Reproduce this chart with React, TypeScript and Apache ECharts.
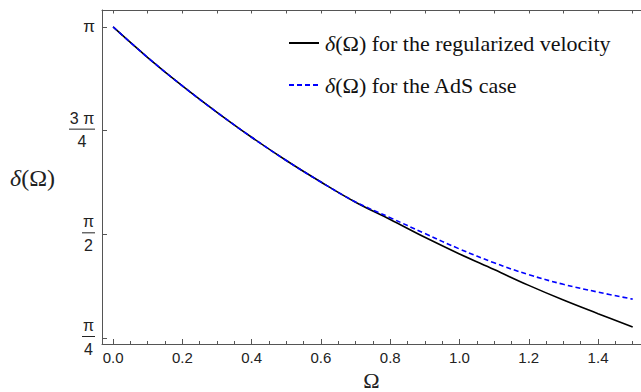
import React, { useEffect, useRef } from "react";
import * as echarts from "echarts";

const PI = Math.PI;

const OMEGA = [0, 0.1, 0.2, 0.3, 0.4, 0.5, 0.6, 0.7, 0.8, 0.9, 1.0, 1.1, 1.2, 1.3, 1.4, 1.5];
const DELTA_REG = [3.1416, 2.91, 2.695, 2.495, 2.306, 2.13, 1.967, 1.814, 1.683, 1.548, 1.422, 1.304, 1.184, 1.073, 0.97, 0.869];
const DELTA_ADS = [3.1416, 2.91, 2.695, 2.495, 2.306, 2.13, 1.967, 1.816, 1.697, 1.577, 1.46, 1.355, 1.265, 1.192, 1.133, 1.08];

const SERIES_NAMES = ["regularized velocity", "the AdS case"];

const X_MAJOR = [0, 0.2, 0.4, 0.6, 0.8, 1.0, 1.2, 1.4];
const X_MINOR = [0, 0.05, 0.1, 0.15, 0.2, 0.25, 0.3, 0.35, 0.4, 0.45, 0.5, 0.55, 0.6, 0.65, 0.7, 0.75, 0.8, 0.85, 0.9, 0.95, 1.0, 1.05, 1.1, 1.15, 1.2, 1.25, 1.3, 1.35, 1.4, 1.45, 1.5];
const X_TOP = [0, 0.1, 0.2, 0.3, 0.4, 0.5, 0.6, 0.7, 0.8, 0.9, 1.0, 1.1, 1.2, 1.3, 1.4, 1.5];
const Y_TICKS = [PI / 4, PI / 2, (3 * PI) / 4, PI];
const Y_LABELS = ["{n|π}\n{b| }\n{d|4}", "{n|π}\n{b| }\n{d|2}", "{N|3 π}\n{B| }\n{D|4}", "{s|π}"];

const X_MIN = -0.032;
const X_MAX = 1.524;
const Y_MIN = 0.74;
const Y_MAX = 3.27;

const AXIS_COLOR = "#555";
const TEXT_COLOR = "#222";
const SANS = "'Liberation Sans', Arial, sans-serif";
const SERIF = "'Liberation Serif', 'Times New Roman', serif";

export default function App() {
  const ref = useRef<HTMLDivElement>(null);

  useEffect(() => {
    if (!ref.current) return;
    const chart = echarts.init(ref.current, null, { renderer: "svg" });
    const pairs = (ys: number[]) => OMEGA.map((x, i) => [x, ys[i]]);
    const tickFont = { fontFamily: SANS, fontSize: 15, color: TEXT_COLOR };
    const frac = (w: number) => ({
      n: { fontFamily: SANS, fontSize: 16, color: TEXT_COLOR, lineHeight: 17, width: w, align: "center" },
      b: { fontSize: 1, lineHeight: 5, height: 1, width: w, backgroundColor: TEXT_COLOR },
      d: { fontFamily: SANS, fontSize: 16, color: TEXT_COLOR, lineHeight: 20, width: w, align: "center" },
    });
    const f1 = frac(13);
    const f3 = frac(26);
    const serif = { fontFamily: SERIF, fontSize: 22, color: "#111", lineHeight: 24 };

    chart.setOption({
      animation: false,
      backgroundColor: "#fff",
      grid: { left: 102, right: 0, top: 10, bottom: 48, containLabel: false, outerBoundsMode: "none" },
      legend: {
        orient: "vertical",
        left: 283,
        top: 26,
        itemWidth: 30,
        itemHeight: 14,
        itemGap: 18,
        data: SERIES_NAMES,
        itemStyle: { opacity: 0 },
        formatter: (name: string) =>
          "{i|δ}{t|(Ω) for " + (name === SERIES_NAMES[0] ? "the " + name : name) + "}",
        textStyle: {
          ...serif,
          padding: [0, 0, 0, 1],
          rich: {
            i: { ...serif, fontStyle: "italic" },
            t: { ...serif },
          },
        },
      },
      xAxis: [
        {
          type: "value",
          position: "bottom",
          min: X_MIN,
          max: X_MAX,
          name: "Ω",
          nameLocation: "middle",
          nameGap: 35,
          nameTextStyle: { fontFamily: SERIF, fontSize: 22, lineHeight: 18, verticalAlign: "middle", color: TEXT_COLOR },
          axisLine: { show: true, onZero: false, lineStyle: { color: AXIS_COLOR, width: 1 } },
          axisTick: { show: true, inside: true, length: 5, customValues: X_MAJOR, lineStyle: { color: AXIS_COLOR } },
          axisLabel: {
            show: true,
            customValues: X_MAJOR,
            margin: 6,
            formatter: (v: number) => v.toFixed(1),
            ...tickFont,
          },
          splitLine: { show: false },
        },
        {
          type: "value",
          position: "bottom",
          min: X_MIN,
          max: X_MAX,
          axisLine: { show: false, onZero: false },
          axisTick: { show: true, inside: true, length: 3, customValues: X_MINOR, lineStyle: { color: AXIS_COLOR } },
          axisLabel: { show: false },
          splitLine: { show: false },
        },
        {
          type: "value",
          position: "top",
          min: X_MIN,
          max: X_MAX,
          axisLine: { show: true, onZero: false, lineStyle: { color: AXIS_COLOR, width: 1 } },
          axisTick: { show: true, inside: true, length: 3.5, customValues: X_TOP, lineStyle: { color: AXIS_COLOR } },
          axisLabel: { show: false },
          splitLine: { show: false },
        },
      ],
      yAxis: {
        type: "value",
        min: Y_MIN,
        max: Y_MAX,
        axisLine: { show: true, onZero: false, lineStyle: { color: AXIS_COLOR, width: 1 } },
        axisTick: { show: true, inside: true, length: 5, customValues: Y_TICKS, lineStyle: { color: AXIS_COLOR } },
        axisLabel: {
          show: true,
          customValues: Y_TICKS,
          margin: 7,
          formatter: (v: number) => {
            let best = 0;
            Y_TICKS.forEach((t, i) => {
              if (Math.abs(t - v) < Math.abs(Y_TICKS[best] - v)) best = i;
            });
            return Y_LABELS[best];
          },
          ...tickFont,
          rich: {
            s: { fontFamily: SANS, fontSize: 17, color: TEXT_COLOR, lineHeight: 18 },
            n: f1.n,
            b: f1.b,
            d: f1.d,
            N: f3.n,
            B: f3.b,
            D: f3.d,
          },
        },
        splitLine: { show: false },
      },
      graphic: [
        {
          type: "text",
          left: 10,
          top: 166,
          style: {
            text: "{i|δ}(Ω)",
            fill: TEXT_COLOR,
            font: "24px " + SERIF,
            rich: {
              i: { fontFamily: SERIF, fontStyle: "italic", fontSize: 24, fill: TEXT_COLOR },
            },
          },
        },
      ],
      series: [
        {
          name: SERIES_NAMES[0],
          type: "line",
          xAxisIndex: 0,
          data: pairs(DELTA_REG),
          smooth: 0.4,
          showSymbol: false,
          symbol: "none",
          lineStyle: { color: "#000", width: 1.6 },
          itemStyle: { color: "#000" },
        },
        {
          name: SERIES_NAMES[1],
          type: "line",
          xAxisIndex: 0,
          data: pairs(DELTA_ADS),
          smooth: 0.4,
          showSymbol: false,
          symbol: "none",
          lineStyle: { color: "#0000ff", width: 1.6, type: [5, 3] },
          itemStyle: { color: "#0000ff" },
        },
      ],
    });
    return () => chart.dispose();
  }, []);

  return <div ref={ref} style={{ position: "fixed", left: 0, top: 0, width: 641, height: 392 }} />;
}
